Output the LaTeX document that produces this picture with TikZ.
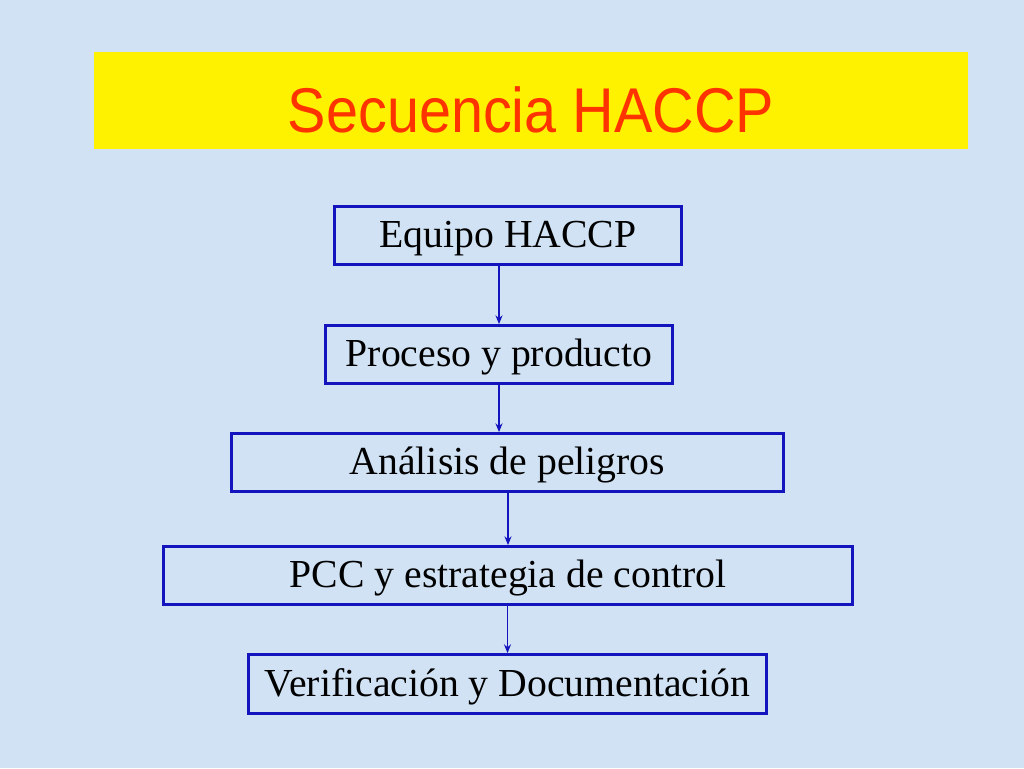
\documentclass[tikz,border=0pt]{standalone}
\usepackage{fontspec}
\setmainfont{Liberation Serif}
\newfontfamily\titlefont{Liberation Sans}
\usetikzlibrary{arrows.meta}
\definecolor{fondo}{RGB}{208,226,244}
\definecolor{azulcaja}{RGB}{20,20,190}
\definecolor{rojotitulo}{RGB}{255,51,0}
\begin{document}
\begin{tikzpicture}[x=0.02cm,y=-0.02cm,
	paso/.style={draw=azulcaja, line width=1.6pt, inner sep=0pt, minimum height=1.16cm, text height=0.62cm, text depth=0.14cm, font=\fontsize{22.6}{26}\selectfont},
	flecha/.style={-{Stealth[length=5pt,width=4pt]}, draw=azulcaja, line width=0.8pt}]
		% Fondo
		\fill[fondo] (0,0) rectangle (1024,768);
		\useasboundingbox (0,0) rectangle (1024,768);
	
		% Titulo
		\node[fill=yellow, minimum width=17.48cm, minimum height=1.94cm, inner sep=0pt] (Titulo) at (531,100.5) {};
		\node[rojotitulo, xscale=0.91, font=\titlefont\fontsize{36}{40}\selectfont] (TituloTexto) at (531,110) {Secuencia HACCP};
		
		% Pasos
		\node[paso, minimum width=6.94cm] (Equipo) at (508,235.5) {Equipo HACCP};
		\node[paso, minimum width=6.94cm] (Proceso) at (499,354.5) {Proceso y producto};
		\node[paso, minimum width=11.04cm] (Analisis) at (507.5,462.5) {Análisis de peligros};
		\node[paso, minimum width=13.78cm] (PCC) at (508,575.5) {PCC y estrategia de control};
		\node[paso, minimum width=10.36cm, minimum height=1.18cm] (Verificacion) at (507.5,684) {Verificación y Documentación};
		
		% Flechas
		\draw[flecha] (Proceso.north |- Equipo.south) -- (Proceso.north);
		\draw[flecha] (Proceso.south) -- (Proceso.south |- Analisis.north);
		\draw[flecha] (PCC.north |- Analisis.south) -- (PCC.north);
		\draw[flecha] (Verificacion.north |- PCC.south) -- (Verificacion.north);
	\end{tikzpicture}
\end{document}
